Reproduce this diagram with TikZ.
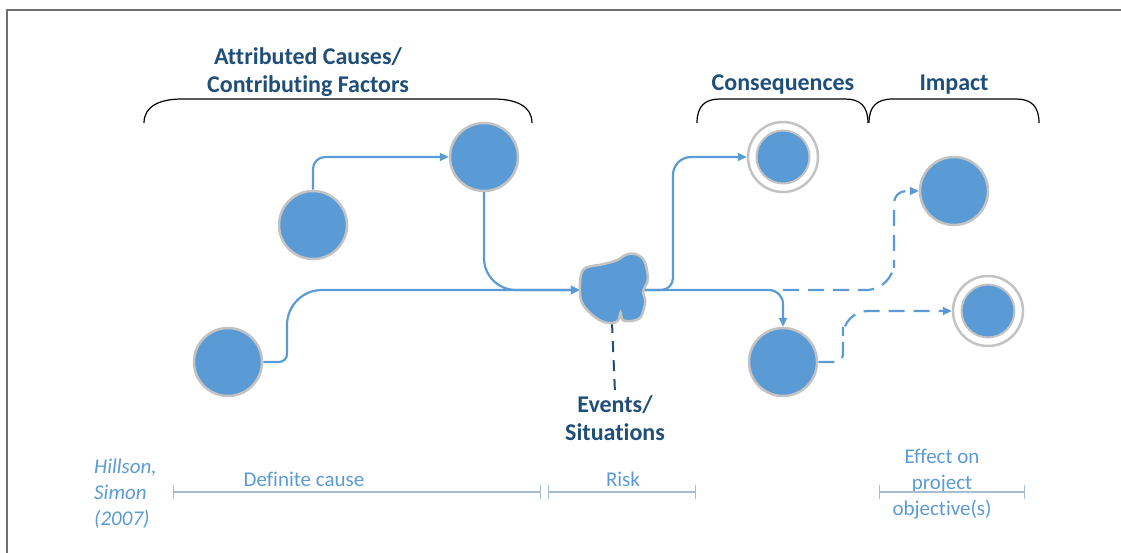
\documentclass[tikz,border=0pt]{standalone}
\usepackage{fontspec}
\setmainfont[Ligatures=NoCommon]{Carlito}
\usetikzlibrary{arrows.meta,calc}
\definecolor{nodeblue}{HTML}{5B9BD5}
\definecolor{ringgray}{HTML}{C3C3C3}
\definecolor{headblue}{HTML}{1F4E79}
\definecolor{textblue}{HTML}{5B9BD5}
\definecolor{barcol}{HTML}{A8BBD0}
\definecolor{framegray}{HTML}{707070}
\begin{document}
\begin{tikzpicture}[x=1pt,y=-1pt,
  ball/.style={circle, minimum size=68pt, inner sep=0pt, fill=nodeblue, draw=ringgray, line width=2.5pt},
  ring/.style={circle, minimum size=70pt, inner sep=0pt, fill=white, draw=ringgray, line width=2.5pt},
  core/.style={circle, minimum size=53pt, inner sep=0pt, fill=nodeblue, draw=ringgray, line width=2pt},
  conn/.style={draw=nodeblue, line width=2.2pt, -{Triangle[length=9pt,width=8pt]}},
  dconn/.style={conn, dash pattern=on 16pt off 9pt},
  heading/.style={font=\fontsize{24}{28}\selectfont\bfseries, text=headblue, align=center, inner sep=2pt},
  label/.style={font=\fontsize{21}{26}\selectfont, text=textblue, align=center, inner sep=1pt},
  brace/.style={draw=black, line width=1.2pt},
  scalebar/.style={draw=barcol, line width=2.5pt, {Bar[width=14pt,line width=1.2pt]}-{Bar[width=14pt,line width=1.2pt]}}
]
\useasboundingbox (0,0) rectangle (1121,553);
\draw[draw=framegray, line width=2pt] (7,553) -- (7,10) -- (1121,10);

% braces and headings
\draw[brace] (144,123) .. controls (144,106) and (160,99) .. (182,99) -- (493,99) .. controls (516,99) and (532,106) .. (532,123);
\draw[brace] (697,123) .. controls (697,106) and (705,99) .. (720,99) -- (845,99) .. controls (860,99) and (868,106) .. (868,123);
\draw[brace] (869,123) .. controls (869,106) and (877,99) .. (893,99) -- (1016,99) .. controls (1031,99) and (1039,106) .. (1039,123);
\node[heading] (hcause) at (308,72) {Attributed Causes/\\Contributing Factors};
\node[heading] (hcons) at (783,85) {Consequences};
\node[heading] (himp) at (954,85) {Impact};

% nodes
\node[ball] (c1) at (313,225) {};
\node[ball] (c2) at (484,157) {};
\node[ball] (c3) at (228,362) {};
\node[minimum size=64pt, inner sep=0pt] (blob) at (612,290) {};
\node[ring] (c4) at (783,157) {};
\node[core] (c4i) at (c4) {};
\node[ball] (c5) at (954,191) {};
\node[ball] (c6) at (783,362) {};
\node[ring] (c7) at (988,311) {};
\node[core] (c7i) at (c7) {};
\node[heading] (events) at (615,418) {Events/\\Situations};

% helper coordinates
\coordinate (k1) at (673,220);
\coordinate (k2) at (783,290);
\coordinate (k3) at (894,240);
\coordinate (k4) at (843,335);
\coordinate (k5) at (287,330);

% connectors
\draw[conn, rounded corners=12pt] (c1.north) |- (c2.west);
\draw[conn, rounded corners=32pt] (c2.south) |- (blob.west);
\draw[conn] (c3.east) [rounded corners=8pt] -| (k5) [rounded corners=35pt] |- (blob.west);
\draw[conn] (blob.east) [rounded corners=12pt] -| (k1) [rounded corners=18pt] |- (c4.west);
\draw[conn, rounded corners=14pt] (blob.east) -| (c6.north);
\draw[dconn] (k2) [rounded corners=28pt] -| (k3) [rounded corners=12pt] |- (c5.west);
\draw[dconn] (c6.east) [rounded corners=8pt] -| (k4) [rounded corners=25pt] |- (c7.west);
\draw[draw=headblue, line width=2pt, dash pattern=on 11pt off 8pt] (blob.south) -- (events.north);

% blob (event)
\begin{scope}[shift={(blob.center)}, scale=1.07]
\filldraw[fill=nodeblue, draw=ringgray, line width=2.5pt] plot[smooth cycle, tension=0.6] coordinates {
 (-30,1) (-29,-14) (-24,-21) (-9,-24) (5,-28) (11,-32) (20,-34) (29,-29) (33,-17) (33,-7) (29,1) (31,11) (27,25) (18,29) (10,28) (8,21) (6,28) (0,31) (-10,29) (-20,22) (-28,12)};
\end{scope}

% bottom scale
\node[label, font=\fontsize{21}{26}\selectfont\itshape, align=left, anchor=north west] (cite) at (93,458) {Hillson,\\Simon\\(2007)};
\node[label] (ldef) at (304,479) {Definite cause};
\node[label] (lrisk) at (623,479) {Risk};
\node[label] (leff) at (942,484) {Effect on\\project\\objective(s)};
\draw[scalebar] (173,492) -- (541,492);
\draw[scalebar] (548,492) -- (696,492);
\draw[scalebar] (879,492) -- (1025,492);
\end{tikzpicture}
\end{document}
